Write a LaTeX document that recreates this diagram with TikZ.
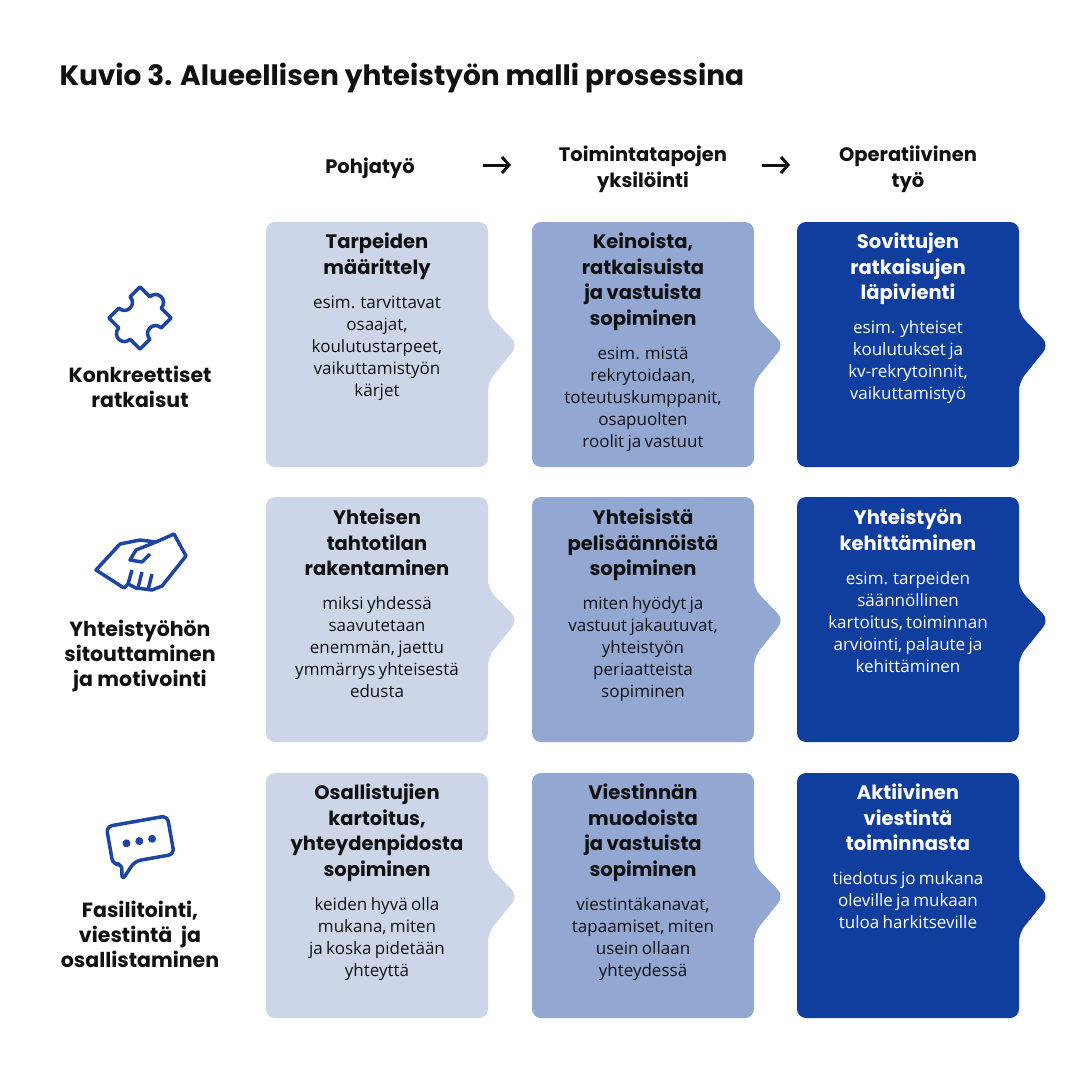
\documentclass[tikz,border=0pt]{standalone}
\usepackage{fontspec}
\setmainfont{Open Sans}
\newfontfamily\hfont{Poppins}
\usetikzlibrary{arrows.meta}
\definecolor{cL}{HTML}{CDD6E9}
\definecolor{cM}{HTML}{93A7D3}
\definecolor{cD}{HTML}{0F3E9E}
\definecolor{ink}{HTML}{111111}
\definecolor{ic}{HTML}{1D45A3}
\newcommand{\tabbox}[3]{\fill[#3, rounded corners=9pt] (#1,#2) -- (#1+222,#2) -- (#1+222,#2+92) -- (#1+252,#2+123) -- (#1+222,#2+160) -- (#1+222,#2+245) -- (#1,#2+245) -- cycle;}
\newcommand{\bx}[2]{{\hfont\fontsize{19.5}{25.5}\selectfont\bfseries #1\par}\vspace{12pt}{\fontsize{17}{22}\selectfont #2\par}}
\begin{document}
\begin{tikzpicture}[x=1pt,y=-1pt,
  hd/.style={font=\hfont\fontsize{19.5}{26}\selectfont\bfseries, align=center, text=ink},
  side/.style={font=\hfont\fontsize{20.5}{25}\selectfont\bfseries, align=center, text=ink},
  bt/.style={anchor=north, text width=230pt, align=center, inner sep=0pt},
  ar/.style={-{Straight Barb[length=7pt,width=16pt]}, line width=3pt, ink},
  ico/.style={draw=ic, line width=3.5pt, line join=round, fill=none}]
\useasboundingbox (0,0) rectangle (1080,1080);
\fill[white] (0,0) rectangle (1080,1080);
\node[anchor=west, font=\hfont\fontsize{28}{32}\selectfont\bfseries, text=ink] (title) at (56,78) {Kuvio 3. Alueellisen yhteistyön malli prosessina};
\node[hd] (h1) at (370,168) {Pohjatyö};
\node[hd] (h2) at (643,169) {Toimintatapojen\\yksilöinti};
\node[hd] (h3) at (908,169) {Operatiivinen\\työ};
\coordinate (a1s) at (483,165); \coordinate (a1e) at (511,165);
\coordinate (a2s) at (762,165); \coordinate (a2e) at (790,165);
\draw[ar] (a1s) -- (a1e);
\draw[ar] (a2s) -- (a2e);
\foreach \y in {222,497,773}{
  \tabbox{266}{\y}{cL}
  \tabbox{532}{\y}{cM}
  \tabbox{797}{\y}{cD}
}
\node[bt, text=ink] (b11) at (377,233) {\bx{Tarpeiden\\määrittely}{esim. tarvittavat\\osaajat,\\koulutustarpeet,\\vaikuttamistyön\\kärjet}};
\node[bt, text=ink] (b12) at (643,233) {\bx{Keinoista,\\ratkaisuista\\ja vastuista\\sopiminen}{esim. mistä\\rekrytoidaan,\\toteutuskumppanit,\\osapuolten\\roolit ja vastuut}};
\node[bt, text=white] (b13) at (908,233) {\bx{Sovittujen\\ratkaisujen\\läpivienti}{esim. yhteiset\\koulutukset ja\\kv-rekrytoinnit,\\vaikuttamistyö}};
\node[bt, text=ink] (b21) at (377,509) {\bx{Yhteisen\\tahtotilan\\rakentaminen}{miksi yhdessä\\saavutetaan\\enemmän, jaettu\\ymmärrys yhteisestä\\edusta}};
\node[bt, text=ink] (b22) at (643,509) {\bx{Yhteisistä\\pelisäännöistä\\sopiminen}{miten hyödyt ja\\vastuut jakautuvat,\\yhteistyön\\periaatteista\\sopiminen}};
\node[bt, text=white] (b23) at (908,509) {\bx{Yhteistyön\\kehittäminen}{esim. tarpeiden\\säännöllinen\\kartoitus, toiminnan\\arviointi, palaute ja\\kehittäminen}};
\node[bt, text=ink] (b31) at (377,784) {\bx{Osallistujien\\kartoitus,\\yhteydenpidosta\\sopiminen}{keiden hyvä olla\\mukana, miten\\ja koska pidetään\\yhteyttä}};
\node[bt, text=ink] (b32) at (643,784) {\bx{Viestinnän\\muodoista\\ja vastuista\\sopiminen}{viestintäkanavat,\\tapaamiset, miten\\usein ollaan\\yhteydessä}};
\node[bt, text=white] (b33) at (908,784) {\bx{Aktiivinen\\viestintä\\toiminnasta}{tiedotus jo mukana\\oleville ja mukaan\\tuloa harkitseville}};
\node[side] (s1) at (140,387) {Konkreettiset\\ratkaisut};
\node[side] (s2) at (140,656) {Yhteistyöhön\\sitouttaminen\\ja motivointi};
\node[side] (s3) at (140,934) {Fasilitointi,\\viestintä\ \ ja\\osallistaminen};
\begin{scope}[shift={(140,318)}, rotate=45]
\draw[ico] (-22,-22) -- (-8,-22) arc[start angle=180, end angle=0, radius=8] -- (22,-22) -- (22,-8) arc[start angle=-90, end angle=90, radius=8] -- (22,22) -- (8,22) arc[start angle=0, end angle=-180, radius=8] -- (-22,22) -- (-22,8) arc[start angle=90, end angle=270, radius=8] -- cycle;
\end{scope}
\begin{scope}[shift={(140,562)}]
\draw[ico] (-44,8) -- (-20,-18) -- (0,-22) -- (16,-20) -- (34,-28) -- (46,-6) -- (22,24) -- (12,28) -- (-4,26) -- (-12,22) -- (-16,26) -- (-44,8) -- cycle;
\draw[ico] (16,-20) -- (-4,-12) -- (-10,-2) -- (2,0) -- (10,-8);
\draw[ico] (-12,22) -- (-8,8) (-2,26) -- (2,10) (8,28) -- (12,12);
\end{scope}
\begin{scope}[shift={(140,845)}, rotate=10]
\draw[ico, rounded corners=6pt] (-30,-24) -- (32,-24) -- (32,15) -- (-8,15) -- (-24,32) -- (-21,15) -- (-30,15) -- cycle;
\foreach \xx in {-13,0,13}{\fill[ic] (\xx,-4) circle (4pt);}
\end{scope}
\end{tikzpicture}
\end{document}
